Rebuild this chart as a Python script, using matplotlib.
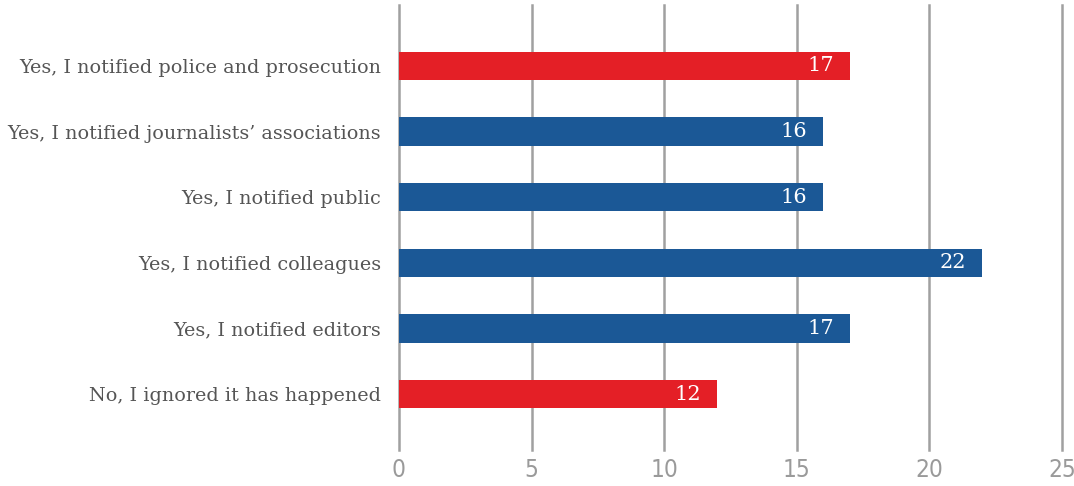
import matplotlib.pyplot as plt

answers = ["No, I ignored it has happened",
           "Yes, I notified editors",
           "Yes, I notified colleagues",
           "Yes, I notified public",
           "Yes, I notified journalists’ associations",
           "Yes, I notified police and prosecution"]
counts = [12, 17, 22, 16, 16, 17]
highlight = [True, False, False, False, False, True]

red = "#e41f26"
blue = "#1b5896"

plt.rcParams['font.family'] = ['DejaVu Serif']

fig = plt.figure(figsize=(10.74, 4.86), dpi=100)
ax = fig.add_axes([0.3715, 0.074, 0.6173, 0.916])

colors = [red if h else blue for h in highlight]
ypos = list(range(len(answers)))
ax.barh(ypos, counts, height=0.43, color=colors, zorder=3)

for y, v in zip(ypos, counts):
    ax.text(v - 0.6, y, str(v), color="white", fontsize=15,
            ha="right", va="center", zorder=4)

ax.set_xlim(0, 25)
ax.set_ylim(-0.85, 5.93)
ax.set_xticks([0, 5, 10, 15, 20, 25])
ax.set_yticks(ypos)
ax.set_yticklabels(answers, fontsize=13.8, color="#555555")
ax.tick_params(axis="y", length=0, pad=13)
ax.tick_params(axis="x", length=0, pad=6, labelsize=17.5, labelcolor="#9a9a9a")
for lbl in ax.get_xticklabels():
    lbl.set_fontfamily("DejaVu Sans")
    lbl.set_fontweight("light")
    lbl.set_fontstretch("condensed")

ax.grid(axis="x", color="#a0a0a0", linewidth=1.8, zorder=0)
for gl in ax.get_xgridlines():
    gl.set_clip_on(False)
for s in ax.spines.values():
    s.set_visible(False)

fig.savefig("out.png", dpi=100)
